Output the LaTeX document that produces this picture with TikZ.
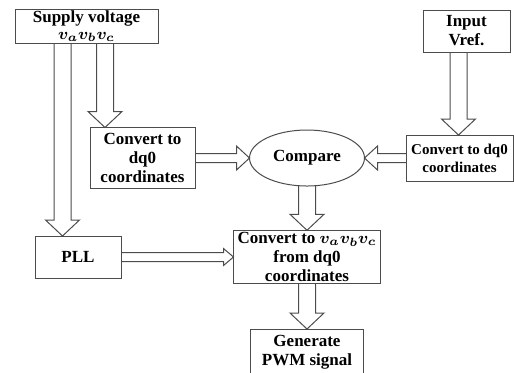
\documentclass[tikz,border=0pt]{standalone}
\usepackage{amsmath}
\usepackage{fontspec}
\setmainfont{Liberation Serif}
\usetikzlibrary{calc,shapes.geometric}

\begin{document}
\begin{tikzpicture}[
			x=0.5pt, y=-0.5pt,
			font=\bfseries\fontsize{8.5}{9.5}\selectfont,
			box/.style={draw=black!70, line width=0.5pt, align=center, 
				inner sep=1pt, outer sep=0pt},
			hollow/.style n args={3}{draw=black!70, line width=0.5pt, to path={
					($(\tikztotarget)!#3!(\tikztostart)$) coordinate (hb)
					($(\tikztostart)!#1!90:(hb)$) -- ($(hb)!#1!-90:(\tikztostart)$)
					-- ($(hb)!#2!-90:(\tikztostart)$) -- (\tikztotarget)
					-- ($(hb)!#2!90:(\tikztostart)$) -- ($(hb)!#1!90:(\tikztostart)$)
					-- ($(\tikztostart)!#1!-90:(hb)$)}},
			vbig/.style={hollow={4.25pt}{8.5pt}{8pt}},
			hsmall/.style={hollow={2.25pt}{6pt}{6.5pt}},
			%thick,scale=0.75, every node/.style={scale=0.75}
			]
			\useasboundingbox (0,0) rectangle (514,372);
			
			\node [box, inner sep=0pt, minimum width=71.5pt, minimum height=17pt] (sup) at (86.5,26) {Supply voltage\\[-1pt]$\boldsymbol{v_a v_b v_c}$};
			\node [box, minimum width=43.5pt, minimum height=21pt] (vref) at (466.5,31) {Input\\Vref.};
			
			\node [box, minimum width=52.5pt, minimum height=30.5pt] (cv1) at (142.5,158) {Convert to\\dq0\\coordinates};
			\node [box, ellipse, inner sep=0pt, minimum width=57.5pt, minimum height=28pt] (cmp) at (307,158) {Compare};
			\node [box, minimum width=53.5pt, minimum height=23pt, 
			font=\bfseries\fontsize{7.5}{9}\selectfont] (cv2) at (459.5,158) {Convert to dq0\\coordinates};
			
			\node [box, minimum width=43pt, minimum height=21pt] (pll) at (78,257) {PLL};
			\node [box, minimum width=73.5pt, minimum height=26.5pt] (cv3) at (307,257) {Convert to $\boldsymbol{v_a v_b v_c}$\\from dq0\\coordinates};
			\node [box, minimum width=56.5pt, minimum height=23pt] (gen) at (307,352) {Generate\\PWM signal};
			
			\draw[vbig] ([xshift=23.75pt]sup.south west) to ([xshift=13.75pt]pll.north west);
			\draw[vbig] ([xshift=45pt]sup.south west) to ([xshift=7.5pt]cv1.north west);
			\draw[vbig] ([xshift=-4pt]vref.south) to ([xshift=26.25pt]cv2.north west);
			
			\draw[hsmall] (cv1.east) to (cmp.west);
			\draw[hsmall] (cv2.west) to (cmp.east);
			
			\draw[vbig] (cmp.south) to (cv3.north);
			\draw[hollow={2.25pt}{4.25pt}{5pt}] (pll.east) to (cv3.west);
			\draw[vbig] (cv3.south) to (gen.north);
		\end{tikzpicture}
\end{document}
